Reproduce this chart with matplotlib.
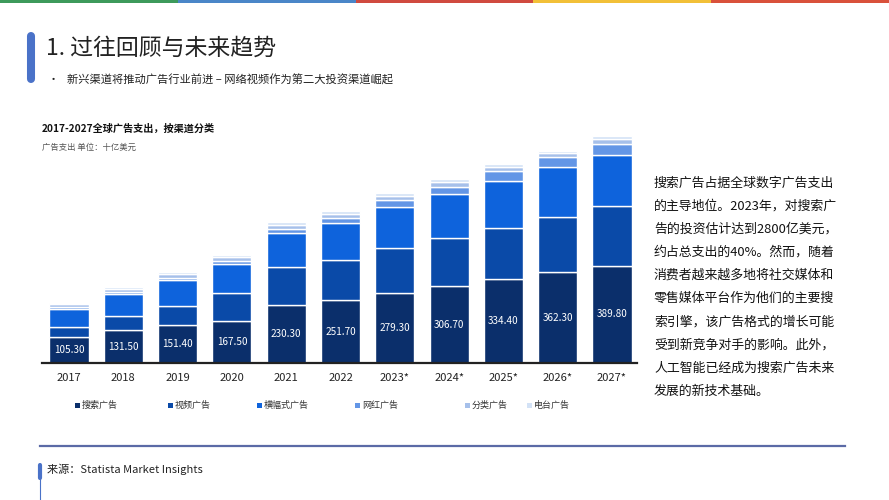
import matplotlib
matplotlib.use("Agg")
import matplotlib.pyplot as plt
import numpy as np
from matplotlib.lines import Line2D

plt.rcParams['font.family'] = ['Noto Sans CJK SC', 'DejaVu Sans']

# ---- data (billion USD) ----
years = ["2017", "2018", "2019", "2020", "2021", "2022",
         "2023*", "2024*", "2025*", "2026*", "2027*"]
search = [105.3, 131.5, 151.4, 167.5, 230.3, 251.7, 279.3, 306.7, 334.4, 362.3, 389.8]
video = [37, 58, 77, 111, 152, 161, 179, 195, 205, 221, 237]
banner = [75, 87, 103, 116, 137, 148, 164, 173, 187, 199, 207]
influencer = [6, 8, 10, 13, 16, 21, 29, 31, 40, 43, 44]
classified = [12, 12, 13, 15, 16, 16, 16, 17, 17, 14, 17]
radio = [6, 7, 8, 8, 11, 11, 12, 12, 11, 10, 12]

series = [search, video, banner, influencer, classified, radio]
labels = ["搜索广告", "视频广告", "横幅式广告", "网红广告", "分类广告", "电台广告"]
colors = ["#0b2f6b", "#0a4aa8", "#0e63dc", "#6396e6", "#a6c0ea", "#d3e2f6"]

body = ["搜索广告占据全球数字广告支出",
        "的主导地位。2023年，对搜索广",
        "告的投资估计达到2800亿美元，",
        "约占总支出的40%。然而，随着",
        "消费者越来越多地将社交媒体和",
        "零售媒体平台作为他们的主要搜",
        "索引擎，该广告格式的增长可能",
        "受到新竞争对手的影响。此外，",
        "人工智能已经成为搜索广告未来",
        "发展的新技术基础。"]

W, H = 889, 500
fig = plt.figure(figsize=(W / 100, H / 100), dpi=100)


def fx(x):
    return x / W


def fy(y):
    return 1 - y / H


# top colour stripe
stripe = ["#3d9a5b", "#4a86c8", "#d04a3f", "#f2c038", "#d9513b"]
for i, c in enumerate(stripe):
    fig.add_artist(plt.Rectangle((i / 5, fy(3)), 1 / 5, 3 / H, color=c,
                                 transform=fig.transFigure, lw=0))

# title block
fig.add_artist(Line2D([fx(31), fx(31)], [fy(36), fy(79)], color="#4a72c8", lw=5.8,
                      solid_capstyle="round", transform=fig.transFigure))
fig.text(fx(46), fy(48), "1. 过往回顾与未来趋势", fontsize=16.5, color="#222222", va="center")
fig.text(fx(48), fy(80), "•", fontsize=8, color="#222222", va="center")
fig.text(fx(67), fy(80), "新兴渠道将推动广告行业前进 – 网络视频作为第二大投资渠道崛起",
         fontsize=8.1, color="#222222", va="center")

fig.text(fx(42), fy(129), "2017-2027全球广告支出，按渠道分类", fontsize=7.3,
         fontweight="bold", color="#111111", va="center")
fig.text(fx(42), fy(147), "广告支出 单位：十亿美元", fontsize=6, color="#555555", va="center")

# chart
ax = fig.add_axes([fx(42), fy(363), (637 - 42) / W, (363 - 130) / H])
x = np.arange(len(years))
bottom = np.zeros(len(years))
for vals, lab, c in zip(series, labels, colors):
    ax.bar(x, vals, 0.72, bottom=bottom, color=c, edgecolor="white", linewidth=1, label=lab)
    bottom += np.array(vals)

for xi, v in zip(x, search):
    ax.text(xi, v / 2, f"{v:.2f}", ha="center", va="center", color="white", fontsize=7.2)

ax.set_xlim(-0.497, 10.46)
ax.set_ylim(0, 932)
ax.set_xticks(x)
ax.set_xticklabels(years, fontsize=8, color="#222222")
ax.tick_params(axis="x", length=0, pad=7)
ax.set_yticks([])
for s in ["top", "right", "left"]:
    ax.spines[s].set_visible(False)
ax.spines["bottom"].set_color("#222222")
ax.spines["bottom"].set_linewidth(1.6)

# legend, placed by hand like the original
leg_x = [75, 168, 257, 355, 465, 527]
for lx, lab, c in zip(leg_x, labels, colors):
    fig.add_artist(plt.Rectangle((fx(lx), fy(408)), 5 / W, 5 / H, color=c,
                                 transform=fig.transFigure, lw=0))
    fig.text(fx(lx + 7), fy(405), lab, fontsize=6.5, color="#333333", va="center")

# right text block
for i, line in enumerate(body):
    fig.text(fx(654), fy(183 + i * 23.15), line, fontsize=9.3, color="#111111", va="center")

# footer
fig.add_artist(Line2D([fx(40), fx(845)], [fy(446), fy(446)], color="#5b6aa6", lw=1.6,
                      transform=fig.transFigure))
fig.add_artist(Line2D([fx(40), fx(40)], [fy(465), fy(478)], color="#4a72c8", lw=3,
                      solid_capstyle="round", transform=fig.transFigure))
fig.add_artist(Line2D([fx(40), fx(40)], [fy(478), fy(500)], color="#4a72c8", lw=0.8,
                      transform=fig.transFigure))
fig.text(fx(47), fy(469), "来源：Statista Market Insights", fontsize=8, color="#222222", va="center")

fig.savefig("out.png", dpi=100)
